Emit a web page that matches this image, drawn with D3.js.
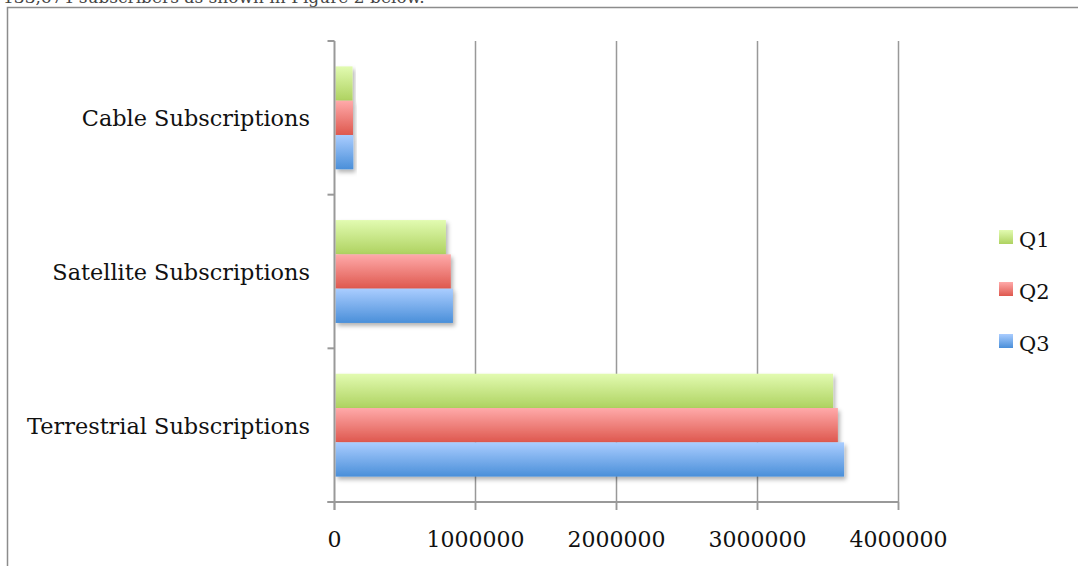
<!DOCTYPE html>
<html>
<head>
<meta charset="utf-8">
<script src="https://cdn.jsdelivr.net/npm/d3@7"></script>
<style>
    body { margin: 0; background: #fff; }
    svg { display: block; }
    text { font-family: "DejaVu Serif", serif; fill: #111; }
</style>
</head>
<body>
<svg id="chart" width="1078" height="566"></svg>
<script>
// Data
const categories = ["Cable Subscriptions", "Satellite Subscriptions", "Terrestrial Subscriptions"];
const seriesNames = ["Q1", "Q2", "Q3"];
const q1 = [128000, 790000, 3536000];
const q2 = [131000, 825000, 3570000];
const q3 = [133674, 840000, 3614000];
const xTicks = [0, 1000000, 2000000, 3000000, 4000000];

const seriesValues = { Q1: q1, Q2: q2, Q3: q3 };
const colors = {
    Q1: ["#e2fbb1", "#aed260"],
    Q2: ["#ffaaaa", "#de584e"],
    Q3: ["#aacdff", "#4a8fd9"]
};

const svg = d3.select("#chart");

// frame + cropped caption line above it (cut off in the original too)
svg.append("text")
    .attr("x", 3)
    .attr("y", 3)
    .style("font-size", "17px")
    .style("fill", "#444")
    .text("133,674 subscribers as shown in Figure 2 below.");

svg.append("path")
    .attr("d", "M7.5,566 V7.5 H1078")
    .attr("fill", "none")
    .attr("stroke", "#8c8c8c")
    .attr("stroke-width", 1.5);

const defs = svg.append("defs");
seriesNames.forEach(s => {
    const g = defs.append("linearGradient")
        .attr("id", "grad" + s)
        .attr("x1", 0).attr("y1", 0).attr("x2", 0).attr("y2", 1);
    g.append("stop").attr("offset", "0%").attr("stop-color", colors[s][0]);
    g.append("stop").attr("offset", "100%").attr("stop-color", colors[s][1]);
});
const shadow = defs.append("filter")
    .attr("id", "shadow")
    .attr("x", "-10%").attr("y", "-20%")
    .attr("width", "130%").attr("height", "160%");
shadow.append("feDropShadow")
    .attr("dx", 2).attr("dy", 3)
    .attr("stdDeviation", 2)
    .attr("flood-color", "#000")
    .attr("flood-opacity", 0.3);

// Scales
const x = d3.scaleLinear()
    .domain([0, 4000000])
    .range([334.5, 898.5]);

const y = d3.scaleBand()
    .domain(categories)
    .range([41, 502])
    .padding(0);

const yInner = d3.scaleBand()
    .domain(seriesNames)
    .range([0, y.bandwidth()])
    .paddingInner(0)
    .paddingOuter(0.74);

// vertical grid lines
svg.append("g")
    .selectAll("line")
    .data(xTicks.slice(1))
    .enter()
    .append("line")
    .attr("x1", d => x(d))
    .attr("x2", d => x(d))
    .attr("y1", 41)
    .attr("y2", 510)
    .attr("stroke", "#999")
    .attr("stroke-width", 1.5);

// bars
const groups = svg.append("g")
    .selectAll("g")
    .data(categories)
    .enter()
    .append("g")
    .attr("transform", d => `translate(0, ${y(d)})`);

seriesNames.forEach(s => {
    groups.append("rect")
        .attr("x", x(0) + 1)
        .attr("y", yInner(s))
        .attr("width", (d, i) => x(seriesValues[s][i]) - x(0) - 1)
        .attr("height", yInner.bandwidth())
        .attr("fill", `url(#grad${s})`)
        .attr("filter", "url(#shadow)");
});

// y axis
const yAxis = svg.append("g");
yAxis.append("line")
    .attr("x1", x(0)).attr("x2", x(0))
    .attr("y1", 41).attr("y2", 510)
    .attr("stroke", "#999")
    .attr("stroke-width", 2);
yAxis.selectAll(".tick")
    .data(y.domain().map(d => y(d)).concat([502]))
    .enter()
    .append("line")
    .attr("x1", x(0) - 7).attr("x2", x(0))
    .attr("y1", d => d).attr("y2", d => d)
    .attr("stroke", "#999")
    .attr("stroke-width", 2);
yAxis.selectAll(".label")
    .data(categories)
    .enter()
    .append("text")
    .attr("x", 310)
    .attr("y", d => y(d) + y.bandwidth() / 2)
    .attr("dy", "0.38em")
    .attr("text-anchor", "end")
    .style("font-size", "22.4px")
    .text(d => d);

// x axis
const xAxis = svg.append("g");
xAxis.append("line")
    .attr("x1", x(0) - 7).attr("x2", x(4000000))
    .attr("y1", 502).attr("y2", 502)
    .attr("stroke", "#999")
    .attr("stroke-width", 2);
xAxis.selectAll(".tick")
    .data(xTicks)
    .enter()
    .append("line")
    .attr("x1", d => x(d)).attr("x2", d => x(d))
    .attr("y1", 502).attr("y2", 510)
    .attr("stroke", "#999")
    .attr("stroke-width", 1.5);
xAxis.selectAll(".label")
    .data(xTicks)
    .enter()
    .append("text")
    .attr("x", d => x(d))
    .attr("y", 547)
    .attr("text-anchor", "middle")
    .style("font-size", "22px")
    .text(d => d);

// legend
const legend = svg.append("g")
    .selectAll("g")
    .data(seriesNames)
    .enter()
    .append("g")
    .attr("transform", (d, i) => `translate(999, ${230 + i * 52})`);
legend.append("rect")
    .attr("width", 14)
    .attr("height", 14)
    .attr("fill", d => `url(#grad${d})`);
legend.append("text")
    .attr("x", 20)
    .attr("y", 17)
    .style("font-size", "21px")
    .text(d => d);
</script>
</body>
</html>
